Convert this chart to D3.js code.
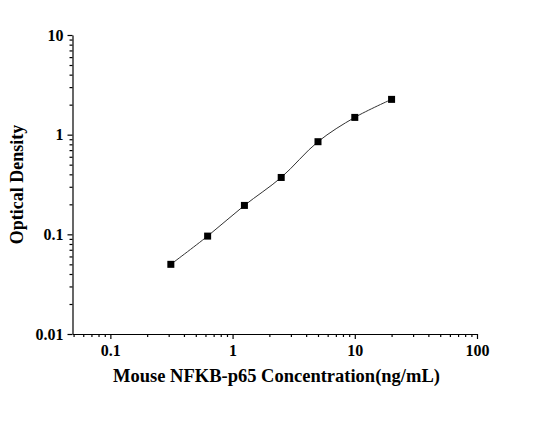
<!DOCTYPE html>
<html>
<head>
<meta charset="utf-8">
<script src="https://cdn.jsdelivr.net/npm/d3@7"></script>
<style>
  body { margin: 0; background: #fff; }
  text { font-family: "Liberation Serif", "Times New Roman", serif; font-weight: bold; }
</style>
</head>
<body>
<div id="chart"></div>
<script>
const concentration = [0.3125, 0.625, 1.25, 2.5, 5, 10, 20];
const density = [0.050, 0.096, 0.195, 0.372, 0.85, 1.49, 2.26];
const xTicks = [0.1, 1, 10, 100];
const yTicks = [0.01, 0.1, 1, 10];

const width = 535;
const height = 436;
const margin = { left: 72.5, right: 58, top: 35, bottom: 102 };

const svg = d3.select('#chart').append('svg')
  .attr('width', width)
  .attr('height', height);

const x = d3.scaleLog()
  .domain([0.049, 100])
  .range([margin.left, width - margin.right]);

const y = d3.scaleLog()
  .domain([0.01, 10])
  .range([height - margin.bottom, margin.top]);

// minor ticks from 2..9 of each decade
function minors(lo, hi) {
  const out = [];
  for (let e = Math.floor(Math.log10(lo)); e < Math.ceil(Math.log10(hi)); e++) {
    for (let m = 2; m <= 9; m++) {
      const v = m * Math.pow(10, e);
      if (v >= lo && v <= hi) out.push(v);
    }
  }
  return out;
}

const fmt = d => String(d);

const xAxis = svg.append('g')
  .attr('transform', `translate(0,${height - margin.bottom})`);
xAxis.call(d3.axisBottom(x).tickValues(minors(0.049, 100)).tickSize(3).tickFormat(''));
xAxis.call(g => g.select('.domain').remove());
const xMajor = svg.append('g')
  .attr('transform', `translate(0,${height - margin.bottom})`)
  .call(d3.axisBottom(x).tickValues(xTicks).tickSize(5).tickSizeOuter(0).tickPadding(6).tickFormat(fmt));
xMajor.selectAll('text').attr('font-size', 16).attr('fill', '#000');

const yAxis = svg.append('g')
  .attr('transform', `translate(${margin.left},0)`);
yAxis.call(d3.axisLeft(y).tickValues(minors(0.01, 10)).tickSize(3).tickFormat(''));
yAxis.call(g => g.select('.domain').remove());
const yMajor = svg.append('g')
  .attr('transform', `translate(${margin.left},0)`)
  .call(d3.axisLeft(y).tickValues(yTicks).tickSize(5).tickSizeOuter(0).tickPadding(4).tickFormat(fmt));
yMajor.selectAll('text').attr('font-size', 16).attr('fill', '#000');

svg.selectAll('.domain, .tick line').attr('stroke', '#000').attr('stroke-width', 1.2);

const line = d3.line()
  .x(d => x(d[0]))
  .y(d => y(d[1]))
  .curve(d3.curveCatmullRom.alpha(0.5));

const pts = concentration.map((c, i) => [c, density[i]]);

svg.append('path')
  .datum(pts)
  .attr('fill', 'none')
  .attr('stroke', '#333')
  .attr('stroke-width', 1)
  .attr('d', line);

svg.selectAll('rect.pt')
  .data(pts)
  .enter().append('rect')
  .attr('class', 'pt')
  .attr('x', d => x(d[0]) - 3.5)
  .attr('y', d => y(d[1]) - 3.5)
  .attr('width', 7)
  .attr('height', 7)
  .attr('fill', '#000');

svg.append('text')
  .attr('x', 276.5)
  .attr('y', 382)
  .attr('text-anchor', 'middle')
  .attr('font-size', 18.5)
  .text('Mouse NFKB-p65 Concentration(ng/mL)');

svg.append('text')
  .attr('transform', `translate(23,${(margin.top + height - margin.bottom) / 2}) rotate(-90)`)
  .attr('text-anchor', 'middle')
  .attr('font-size', 18)
  .text('Optical Density');
</script>
</body>
</html>
